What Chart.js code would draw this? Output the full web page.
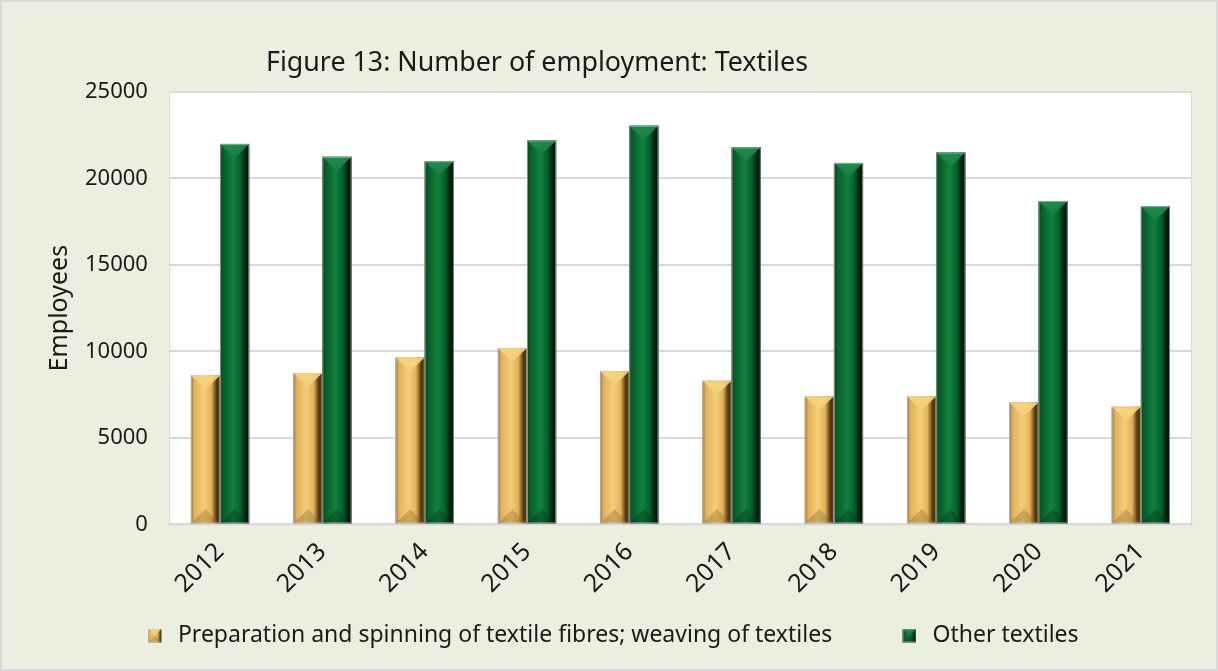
<!DOCTYPE html>
<html>
<head>
<meta charset="utf-8">
<script src="https://cdn.jsdelivr.net/npm/chart.js@4/dist/chart.umd.min.js"></script>
<style>
  html, body { margin: 0; padding: 0; background: #fff; }
  #wrap {
    position: relative;
    width: 1214px; height: 667px;
    background: #ebefdf;
    border: 2px solid #d9d9d9;
  }
</style>
</head>
<body>
<div id="wrap"><canvas id="textiles"></canvas></div>
<script>
// Data
var years = ['2012', '2013', '2014', '2015', '2016', '2017', '2018', '2019', '2020', '2021'];
var spinningWeaving = [8600, 8750, 9650, 10200, 8850, 8300, 7400, 7400, 7050, 6800];
var otherTextiles = [22000, 21250, 21000, 22200, 23050, 21800, 20900, 21500, 18700, 18400];
var yTicks = [0, 5000, 10000, 15000, 20000, 25000];

var FONT = '"Noto Sans", "DejaVu Sans", sans-serif';

// colours for the bevelled bars
var palettes = [
  { base: '#e3b15a', light: '#f2cd78', edge: '#9c7633', dark: '#4f3812', top: '#f7d680', bottom: '#876327' },
  { base: '#03612b', light: '#13803f', edge: '#0a4620', dark: '#011a0b', top: '#2a8a55', bottom: '#022e15' }
];

function drawBevel(ctx, left, top, right, bottom, p) {
  var w = right - left, h = bottom - top;
  if (w <= 0 || h <= 0) return;
  var g = ctx.createLinearGradient(left, 0, right, 0);
  g.addColorStop(0, p.edge);
  g.addColorStop(0.12, p.base);
  g.addColorStop(0.45, p.light);
  g.addColorStop(0.7, p.base);
  g.addColorStop(0.88, p.dark);
  g.addColorStop(1, p.dark);
  ctx.fillStyle = g;
  ctx.fillRect(left, top, w, h);
  var b = Math.min(w / 2, h / 2, 14);
  var cx = (left + right) / 2;
  // top facet
  ctx.beginPath();
  ctx.moveTo(left, top); ctx.lineTo(right, top); ctx.lineTo(cx, top + b); ctx.closePath();
  var gt = ctx.createLinearGradient(0, top, 0, top + b);
  gt.addColorStop(0, p.top); gt.addColorStop(1, p.light);
  ctx.fillStyle = gt; ctx.globalAlpha = 0.9; ctx.fill();
  // bottom facet
  ctx.beginPath();
  ctx.moveTo(left, bottom); ctx.lineTo(right, bottom); ctx.lineTo(cx, bottom - b); ctx.closePath();
  ctx.fillStyle = p.bottom; ctx.globalAlpha = 0.35; ctx.fill();
  ctx.globalAlpha = 1;
  ctx.strokeStyle = 'rgba(200,200,200,0.6)';
  ctx.lineWidth = 1;
  ctx.strokeRect(left + 0.5, top + 0.5, w - 1, h - 1);
}

function legendSwatch(p) {
  var c = document.createElement('canvas');
  c.width = 14; c.height = 14;
  drawBevel(c.getContext('2d'), 0, 0, 14, 14, p);
  return c;
}

var plotBackground = {
  id: 'plotBackground',
  beforeDraw: function (chart) {
    var a = chart.chartArea, ctx = chart.ctx;
    ctx.save();
    ctx.fillStyle = '#ffffff';
    ctx.fillRect(a.left, a.top, a.right - a.left, a.bottom - a.top);
    ctx.strokeStyle = '#d9d9d9';
    ctx.lineWidth = 1;
    ctx.strokeRect(a.left + 0.5, a.top + 0.5, a.right - a.left - 1, a.bottom - a.top);
    // figure caption
    ctx.fillStyle = '#1a1a1a';
    ctx.font = '26.8px ' + FONT;
    ctx.textBaseline = 'alphabetic';
    ctx.textAlign = 'left';
    ctx.fillText('Figure 13: Number of employment: Textiles', 264, 69);
    ctx.restore();
  }
};

var bevelBars = {
  id: 'bevelBars',
  afterDatasetsDraw: function (chart) {
    var ctx = chart.ctx;
    ctx.save();
    chart.data.datasets.forEach(function (ds, i) {
      var meta = chart.getDatasetMeta(i);
      if (meta.hidden) return;
      meta.data.forEach(function (bar) {
        var half = bar.width / 2;
        drawBevel(ctx, bar.x - half, Math.min(bar.y, bar.base), bar.x + half, Math.max(bar.y, bar.base), palettes[i]);
      });
    });
    ctx.restore();
  }
};

var ctx = document.getElementById('textiles').getContext('2d');
var textilesChart = new Chart(ctx, {
  type: 'bar',
  data: {
    labels: years,
    datasets: [{
      label: 'Preparation and spinning of textile fibres; weaving of textiles',
      data: spinningWeaving,
      backgroundColor: palettes[0].base
    }, {
      label: 'Other textiles',
      data: otherTextiles,
      backgroundColor: palettes[1].base
    }]
  },
  options: {
    responsive: true,
    maintainAspectRatio: false,
    animation: false,
    layout: { padding: { top: 90, left: 28, right: 24, bottom: 12 } },
    datasets: {
      bar: { barPercentage: 1, categoryPercentage: 0.57 }
    },
    scales: {
      x: {
        grid: { display: false, drawTicks: false },
        border: { color: '#d9d9d9' },
        ticks: {
          color: '#1a1a1a',
          font: { family: FONT, size: 25 },
          minRotation: 45, maxRotation: 45,
          padding: 13
        }
      },
      y: {
        min: 0, max: 25000,
        afterBuildTicks: function (axis) {
          axis.ticks = yTicks.map(function (v) { return { value: v }; });
        },
        grid: { color: '#d9d9d9', lineWidth: 2, drawTicks: false },
        border: { display: false },
        ticks: {
          color: '#1a1a1a',
          font: { family: FONT, size: 22 },
          padding: 21,
          callback: function (v) { return String(v); }
        },
        title: {
          display: true,
          text: 'Employees',
          color: '#1a1a1a',
          font: { family: FONT, size: 25 },
          padding: { top: 15, bottom: -11 }
        }
      }
    },
    plugins: {
      title: { display: false },
      tooltip: { enabled: false },
      legend: {
        position: 'bottom',
        labels: {
          color: '#1a1a1a',
          font: { family: FONT, size: 23 },
          usePointStyle: true,
          padding: 12,
          generateLabels: function (chart) {
            var items = Chart.defaults.plugins.legend.labels.generateLabels(chart);
            items.forEach(function (it, i) {
              it.pointStyle = legendSwatch(palettes[i]);
              it.text = it.text + (i === 0 ? '         ' : '');
            });
            return items;
          }
        }
      }
    }
  },
  plugins: [plotBackground, bevelBars]
});
</script>
</body>
</html>
